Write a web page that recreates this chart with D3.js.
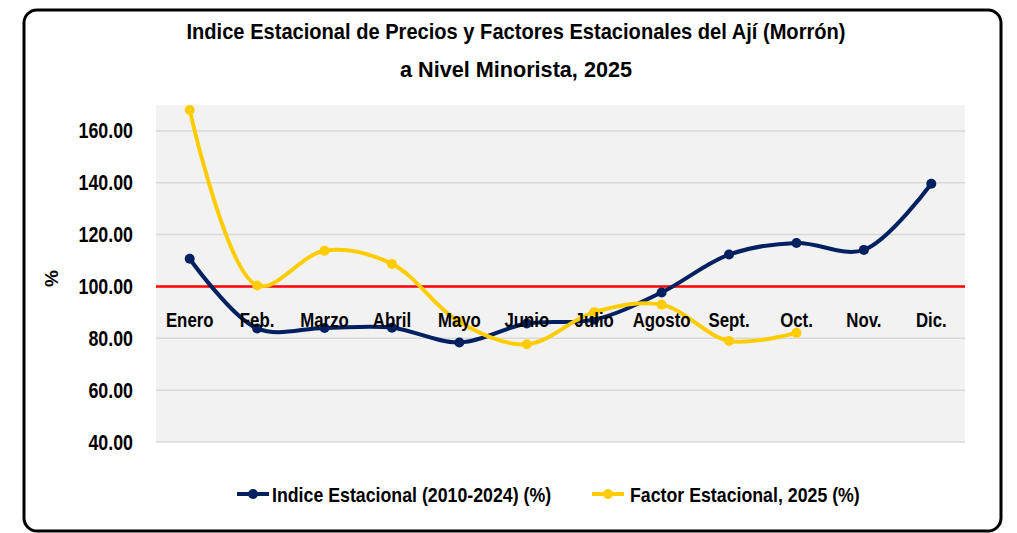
<!DOCTYPE html>
<html><head><meta charset="utf-8">
<script src="https://cdn.jsdelivr.net/npm/d3@7"></script>
<style>
html,body{margin:0;padding:0;background:#fff;}
svg{display:block;}
text{font-family:"Liberation Sans",Arial,sans-serif;font-weight:bold;fill:#000;}
</style></head>
<body>
<svg id="chart" width="1017" height="533"></svg>
<script>
const categories = ["Enero","Feb.","Marzo","Abril","Mayo","Junio","Julio","Agosto","Sept.","Oct.","Nov.","Dic."];
const indiceEstacional = [110.7, 83.8, 84.0, 84.1, 78.4, 85.7, 87.2, 97.7, 112.3, 116.8, 114.1, 139.6];
const factorEstacional = [168.1, 100.4, 113.8, 108.7, 86.3, 77.7, 90.1, 93.0, 79.0, 82.1];
const yTicks = [40, 60, 80, 100, 120, 140, 160];
const seriesNames = ["Indice Estacional (2010-2024) (%)", "Factor Estacional, 2025 (%)"];
const titleLines = ["Indice Estacional de Precios y Factores Estacionales del Ají (Morrón)", "a Nivel Minorista, 2025"];
const baseline = 100;

const svg = d3.select("#chart");
const colors = ["#002060", "#FFCC00"];
const FONT = '"Liberation Sans",Arial,sans-serif';

// squeeze text horizontally to mimic a condensed font
function squeeze(sel, factor){
  sel.each(function(){
    const w = this.getComputedTextLength();
    d3.select(this).attr("textLength", w*factor).attr("lengthAdjust","spacingAndGlyphs");
  });
}

// outer border
svg.append("rect").attr("x",24).attr("y",10).attr("width",977).attr("height",521)
  .attr("rx",13).attr("fill","#fff").attr("stroke","#000").attr("stroke-width",3);

const plot = {left:156, right:965, top:105, bottom:442};
const x = d3.scaleBand().domain(categories).range([plot.left, plot.right]);
const y = d3.scaleLinear().domain([40, 170]).range([plot.bottom, plot.top]);
const cx = c => x(c) + x.bandwidth()/2;

svg.append("rect").attr("x",plot.left).attr("y",plot.top)
  .attr("width",plot.right-plot.left).attr("height",plot.bottom-plot.top).attr("fill","#F2F2F2");

// gridlines
svg.append("g").selectAll("line").data(yTicks).join("line")
  .attr("x1",plot.left).attr("x2",plot.right)
  .attr("y1",d=>y(d)).attr("y2",d=>y(d))
  .attr("stroke","#D9D9D9").attr("stroke-width",1.5);

// y axis labels
const yAxis = d3.axisLeft(y).tickValues(yTicks).tickFormat(d3.format(".2f")).tickSize(0).tickPadding(0);
const ya = svg.append("g").attr("transform",`translate(${plot.left-23},0)`).call(yAxis);
ya.select(".domain").remove();
ya.selectAll("text").attr("font-size",22).style("font-family",FONT).style("font-weight","bold").attr("fill","#000");
squeeze(ya.selectAll("text"), 0.81);

// % label
svg.append("text").attr("transform",`translate(58,${y(100)-8}) rotate(-90)`)
  .attr("text-anchor","middle").attr("font-size",19).text("%");

// red baseline (category axis at 100)
svg.append("line").attr("x1",plot.left).attr("x2",plot.right)
  .attr("y1",y(baseline)).attr("y2",y(baseline)).attr("stroke","#FF0000").attr("stroke-width",2.5);

// series
const line = d3.line().x(d=>cx(d.c)).y(d=>y(d.v)).curve(d3.curveCatmullRom.alpha(0.5));
const data = [indiceEstacional, factorEstacional].map(arr => arr.map((v,i)=>({c:categories[i], v})));

data.forEach((ser, k) => {
  const g = svg.append("g");
  g.append("path").datum(ser).attr("d",line).attr("fill","none")
    .attr("stroke",colors[k]).attr("stroke-width",4).attr("stroke-linejoin","round");
  g.selectAll("circle").data(ser).join("circle")
    .attr("cx",d=>cx(d.c)).attr("cy",d=>y(d.v)).attr("r",5).attr("fill",colors[k]);
});

// category labels (on top of the series)
const xAxis = d3.axisBottom(x).tickSize(0).tickPadding(0);
const xa = svg.append("g").attr("transform",`translate(0,${y(baseline)+41})`).call(xAxis);
xa.select(".domain").remove();
xa.selectAll("text").attr("font-size",21).style("font-family",FONT).style("font-weight","bold").attr("fill","#000").attr("dy","0");
squeeze(xa.selectAll("text"), 0.80);

// title
const titleWidths = [659, 232];
svg.selectAll("text.title").data(titleLines).join("text").attr("class","title")
  .attr("x",516).attr("y",(d,i)=>i===0?39:77).attr("text-anchor","middle")
  .attr("font-size",22).attr("textLength",(d,i)=>titleWidths[i]).attr("lengthAdjust","spacingAndGlyphs")
  .text(d=>d);

// legend
const legendItems = [{x0:237, tx:272}, {x0:592, tx:630}];
legendItems.forEach((it,k)=>{
  const ly = 494;
  svg.append("line").attr("x1",it.x0).attr("x2",it.x0+32).attr("y1",ly).attr("y2",ly)
    .attr("stroke",colors[k]).attr("stroke-width",4);
  svg.append("circle").attr("cx",it.x0+16).attr("cy",ly).attr("r",5).attr("fill",colors[k]);
  const t = svg.append("text").attr("x",it.tx).attr("y",ly+8).attr("font-size",21).text(seriesNames[k]);
  squeeze(t, 0.845);
});
</script>
</body></html>
